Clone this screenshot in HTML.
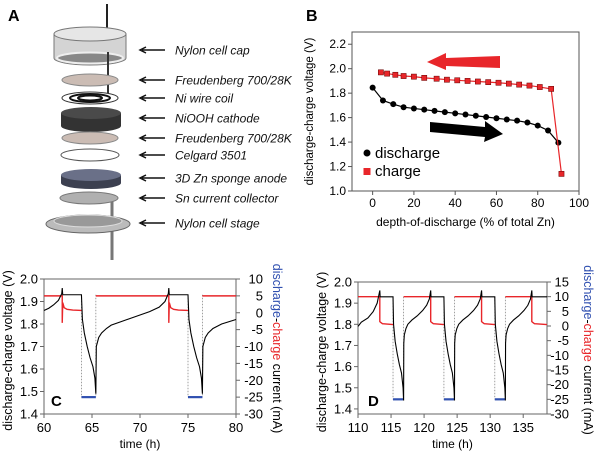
<!DOCTYPE html>
<html><head><meta charset="utf-8"><style>
html,body{margin:0;padding:0;background:#fff}
svg{display:block;font-family:"Liberation Sans",Arial,sans-serif}
</style></head><body>
<svg id="fig" width="600" height="461" viewBox="0 0 600 461">
<!-- Panel A -->
<g>
<text x="8" y="21" font-size="16" font-weight="bold">A</text>
<line x1="107" y1="4" x2="107" y2="30" stroke="#222" stroke-width="2"/>
<path d="M54,34 L54,58 A36,7 0 0 0 126,58 L126,34 Z" fill="#d4d4d4" stroke="#777"/>
<ellipse cx="90" cy="34" rx="36" ry="7" fill="#e6e6e6" stroke="#777"/>
<ellipse cx="90" cy="58" rx="33" ry="5.5" fill="#888" stroke="#eee" stroke-width="2"/>
<line x1="108" y1="52" x2="108" y2="94" stroke="#333" stroke-width="2"/>
<ellipse cx="90" cy="80" rx="28" ry="6" fill="#cbbcb4" stroke="#888"/>
<ellipse cx="90" cy="98" rx="28" ry="6" fill="#fff" stroke="#333"/>
<ellipse cx="90" cy="98" rx="20" ry="4" fill="none" stroke="#111" stroke-width="2"/>
<ellipse cx="90" cy="98" rx="12" ry="2.5" fill="none" stroke="#111" stroke-width="2"/>
<path d="M61,113 L61,126 A30,6 0 0 0 121,126 L121,113 Z" fill="#333"/>
<ellipse cx="91" cy="113" rx="30" ry="6" fill="#4a4a4a"/>
<ellipse cx="90" cy="138" rx="28" ry="6" fill="#cbbcb4" stroke="#888"/>
<ellipse cx="90" cy="155" rx="29" ry="6" fill="#fff" stroke="#555"/>
<path d="M61,175 L61,183 A30,6 0 0 0 121,183 L121,175 Z" fill="#3c4050"/>
<ellipse cx="91" cy="175" rx="30" ry="6" fill="#6a7088"/>
<line x1="112" y1="198" x2="112" y2="260" stroke="#777" stroke-width="3"/>
<ellipse cx="89" cy="198" rx="29" ry="6" fill="#b0b0b0" stroke="#777"/>
<ellipse cx="88" cy="224" rx="42" ry="9" fill="#bbb" stroke="#666"/>
<ellipse cx="88" cy="221" rx="34" ry="6" fill="#999" stroke="#ddd"/>
<g id="alabels" font-size="12" font-style="italic" fill="#111"></g>
</g>
<g id="pb"></g>
<g id="pc"></g>
<g id="pd"></g>
</svg>
<script>
const NS="http://www.w3.org/2000/svg";
function mk(p,tag,a,txt){const e=document.createElementNS(NS,tag);for(const k in a)e.setAttribute(k,a[k]);if(txt!==undefined)e.textContent=txt;p.appendChild(e);return e;}

// Panel A labels
const aLabels=["Nylon cell cap","Freudenberg 700/28K","Ni wire coil","NiOOH cathode","Freudenberg 700/28K","Celgard 3501","3D Zn sponge anode","Sn current collector","Nylon cell stage"];
const aY=[50,80,98,118,138,155,178,198,223];
const ag=document.getElementById('alabels');
aLabels.forEach((s,i)=>{
  const ar=mk(ag,'path',{d:`M165,${aY[i]} L142,${aY[i]} M146,${aY[i]-3} L140,${aY[i]} L146,${aY[i]+3}`,stroke:'#111','stroke-width':1.5,fill:'none'});
  
  
  const t=mk(ag,'text',{x:175,y:aY[i]+4.5},s);
  
  
});

// Panel B data
const bDisX=[0,5,10,15,20,25,30,35,40,45,50,55,60,65,70,75,80,85,90];
const bDisY=[1.845,1.74,1.71,1.685,1.675,1.665,1.655,1.645,1.635,1.625,1.615,1.605,1.595,1.585,1.575,1.56,1.535,1.495,1.395];
const bChX=[4,7,11,15,20,25,31,36,41,46,51,56,61,66,71,76,81,86.5,91.5];
const bChY=[1.97,1.96,1.95,1.94,1.935,1.925,1.918,1.91,1.905,1.9,1.895,1.89,1.885,1.878,1.87,1.862,1.85,1.835,1.14];
const bXTicks=[0,20,40,60,80,100];
const bYTicks=[1.0,1.2,1.4,1.6,1.8,2.0,2.2];
(function(){
  const g=document.getElementById('pb');
  const L=352,R=579,T=32,B=191;
  const sx=v=>L+(v+10)/110*(R-L), sy=v=>B-(v-1.0)/1.3*(B-T);
  const lb=mk(g,'text',{x:306,y:21,'font-size':16,'font-weight':'bold'},'B');
  
  const fr=mk(g,'rect',{x:L,y:T,width:R-L,height:B-T,fill:'none',stroke:'#555'});
  
  bYTicks.forEach(v=>{mk(g,'line',{x1:L-4,x2:L,y1:sy(v),y2:sy(v),stroke:'#555'});
    const t=mk(g,'text',{x:L-6,y:sy(v)+4,'font-size':12,'text-anchor':'end'},v.toFixed(1));
    });
  bXTicks.forEach(v=>{mk(g,'line',{x1:sx(v),x2:sx(v),y1:B,y2:B+4,stroke:'#555'});
    const t=mk(g,'text',{x:sx(v),y:B+16,'font-size':12,'text-anchor':'middle'},v);
    });
  const xt=mk(g,'text',{x:(L+R)/2,y:226,'font-size':12,'text-anchor':'middle'},'depth-of-discharge (% of total Zn)');
  
  const yt=mk(g,'text',{transform:`translate(313,${(T+B)/2}) rotate(-90)`,'font-size':11.5,'text-anchor':'middle'},'discharge-charge voltage (V)');
  
  const ra=mk(g,'path',{d:'M500,56 L446,58 L446,53 L427,62 L446,70 L446,66 L500,68 Z',fill:'#e8262a'});
  
  const ka=mk(g,'path',{d:'M430,122 L485,127 L485,121 L503,134 L484,142 L485,137 L430,132 Z',fill:'#000'});
  
  const dl=mk(g,'polyline',{points:bDisX.map((x,i)=>sx(x)+','+sy(bDisY[i])).join(' '),fill:'none',stroke:'#000','stroke-width':1.2});
  
  bDisX.forEach((x,i)=>{const c=mk(g,'circle',{cx:sx(x),cy:sy(bDisY[i]),r:3,fill:'#000'});
    });
  const cl=mk(g,'polyline',{points:bChX.map((x,i)=>sx(x)+','+sy(bChY[i])).join(' '),fill:'none',stroke:'#e8262a','stroke-width':1.2});
  
  bChX.forEach((x,i)=>{const c=mk(g,'rect',{x:sx(x)-2.6,y:sy(bChY[i])-2.6,width:5.2,height:5.2,fill:'#e8262a',stroke:'#600','stroke-width':0.5});
    });
  const l1=mk(g,'circle',{cx:367,cy:153,r:3.5,fill:'#000'});
  const l2=mk(g,'text',{x:375,y:158,'font-size':15},'discharge');
  const l3=mk(g,'rect',{x:363.5,y:168,width:7,height:7,fill:'#e8262a'});
  const l4=mk(g,'text',{x:375,y:176,'font-size':15},'charge');
})();

// Panel C data
const cVt=[60,60.5,61,61.5,61.85,61.9,61.95,63.9,64.0,64.2,64.5,64.8,65.1,65.3,65.4,65.45,65.7,66,66.5,67,68,69,70,71,72,72.6,72.95,73,73.05,75,75.1,75.3,75.6,75.9,76.2,76.4,76.5,76.55,76.8,77.1,77.6,78.5,80];
const cV=[1.86,1.87,1.885,1.905,1.935,1.96,1.93,1.93,1.82,1.76,1.7,1.65,1.61,1.56,1.49,1.7,1.74,1.76,1.78,1.795,1.81,1.825,1.84,1.855,1.875,1.9,1.935,1.96,1.93,1.93,1.82,1.76,1.7,1.65,1.61,1.56,1.49,1.7,1.74,1.76,1.78,1.8,1.82];
const cCt=[60,61.9,61.9,61.95,62.1,62.4,63,63.9,null,65.4,73,73,73.05,73.2,73.5,74,75,null,76.5,80];
const cC=[5,5,-3,3,1.5,1,0.8,0.7,null,5,5,-3,3,1.5,1,0.8,0.7,null,5,5];
const cDisStart=[63.9,75];
const cDisEnd=[65.4,76.5];
const cDisCurrent=-25;
const cXTicks=[60,65,70,75,80];
const cYTicks=[1.4,1.5,1.6,1.7,1.8,1.9,2.0];
const cY2Ticks=[10,5,0,-5,-10,-15,-20,-25,-30];

// Panel D data
const dInitT=[110,110.5,111.5,112.3,112.9,113.3];
const dInitV=[1.79,1.81,1.83,1.86,1.9,1.96];
const dCvStart=[113.3,121,128.7,136.3];
const dDisStart=[115.3,123,130.7];
const dDisEnd=[116.9,124.6,132.3];
const dChFrac=[0,0.02,0.08,0.15,0.3,0.5,0.7,0.85,0.95,1];
const dChV=[1.71,1.75,1.78,1.8,1.82,1.84,1.865,1.89,1.92,1.96];
const dDsFrac=[0,0.05,0.2,0.4,0.6,0.8,0.95,1];
const dDsV=[1.93,1.8,1.72,1.66,1.61,1.57,1.5,1.44];
const dCvHold=1.93, dChargeI=10, dCvI0=1.5, dCvI1=0.5, dDisI=-25;
const dXTicks=[110,115,120,125,130,135];
const dYTicks=[1.4,1.5,1.6,1.7,1.8,1.9,2.0];
const dY2Ticks=[15,10,5,0,-5,-10,-15,-20,-25,-30];

function cyclePanel(g,o){
  const {L,R,T,B,x0,x1,y0,y1,i0,i1}=o;
  const sx=v=>L+(v-x0)/(x1-x0)*(R-L), sy=v=>B-(v-y0)/(y1-y0)*(B-T), si=v=>B-(v-i0)/(i1-i0)*(B-T);
  const fr=mk(g,'rect',{x:L,y:T,width:R-L,height:B-T,fill:'none',stroke:'#666'});
  
  o.yt.forEach(v=>{mk(g,'line',{x1:L-4,x2:L,y1:sy(v),y2:sy(v),stroke:'#666'});
    const t=mk(g,'text',{x:L-6,y:sy(v)+4.5,'font-size':13,'text-anchor':'end'},v.toFixed(1));
    });
  o.y2t.forEach(v=>{mk(g,'line',{x1:R,x2:R+4,y1:si(v),y2:si(v),stroke:'#666'});
    const t=mk(g,'text',{x:R+o.y2off,y:si(v)+4.5,'font-size':13,'text-anchor':'end'},v);
    });
  o.xt.forEach(v=>{mk(g,'line',{x1:sx(v),x2:sx(v),y1:B,y2:B+4,stroke:'#666'});
    const t=mk(g,'text',{x:sx(v),y:B+18,'font-size':13,'text-anchor':'middle'},v);
    });
  const xt=mk(g,'text',{x:(L+R)/2,y:B+34,'font-size':12,'text-anchor':'middle'},'time (h)');
  
  const yt=mk(g,'text',{transform:`translate(${o.ylx},${(T+B)/2+4}) rotate(-90)`,'font-size':12.5,'text-anchor':'middle'},'discharge-charge voltage (V)');
  
  const y2=mk(g,'text',{transform:`translate(${o.y2x},${(T+B)/2+2}) rotate(90)`,'font-size':12.5,'text-anchor':'middle'});
  
  mk(y2,'tspan',{fill:'#3050b0'},'discharge');mk(y2,'tspan',{fill:'#000'},'-');mk(y2,'tspan',{fill:'#e8262a'},'charge');mk(y2,'tspan',{fill:'#000'},' current (mA)');
  const pl=mk(g,'text',{x:o.lx,y:o.ly,'font-size':15,'font-weight':'bold'},o.label);
  
  o.ds.forEach((s,k)=>{const e=o.de[k];
    [s,e].forEach(t=>{const d=mk(g,'line',{x1:sx(t),x2:sx(t),y1:sy(o.hold),y2:si(o.dI),stroke:'#888','stroke-width':0.8,'stroke-dasharray':'1.5,1.5'});
      });
    const b=mk(g,'line',{x1:sx(s),x2:sx(e),y1:si(o.dI),y2:si(o.dI),stroke:'#3050b0','stroke-width':2.2});
    });
  let segs=[],cur=[];
  o.it.forEach((t,k)=>{if(t===null){segs.push(cur);cur=[];}else cur.push(sx(t)+','+si(o.iv[k]));});segs.push(cur);
  segs.forEach(s=>{const p=mk(g,'polyline',{points:s.join(' '),fill:'none',stroke:'#e8262a','stroke-width':1.4});
    });
  const v=mk(g,'polyline',{points:o.vt.map((t,k)=>sx(t)+','+sy(o.vv[k])).join(' '),fill:'none',stroke:'#000','stroke-width':1.1});
  
}

cyclePanel(document.getElementById('pc'),{L:44,R:236,T:279,B:414,x0:60,x1:80,y0:1.4,y1:2.0,i0:-30,i1:10,
  xt:cXTicks,yt:cYTicks,y2t:cY2Ticks,vt:cVt,vv:cV,it:cCt,iv:cC,ds:cDisStart,de:cDisEnd,dI:cDisCurrent,hold:1.93,
  ylx:12,y2x:273,y2off:27,lx:51,ly:406,label:'C'});

(function(){
  const vt=dInitT.slice(), vv=dInitV.slice(), it=[110], iv=[dChargeI];
  dCvStart.forEach((cs,k)=>{
    const end = k<dDisStart.length ? dDisStart[k] : 138.6;
    vt.push(cs+0.05,end); vv.push(dCvHold,dCvHold);
    it.push(cs,cs,cs+0.1,cs+0.4,end); iv.push(dChargeI,dCvI0,dCvI0-0.2,dCvI1+0.3,dCvI1);
    if(k<dDisStart.length){
      const s=dDisStart[k], e=dDisEnd[k];
      dDsFrac.forEach((f,j)=>{vt.push(s+f*(e-s));vv.push(dDsV[j]);});
      const nx=dCvStart[k+1];
      dChFrac.forEach((f,j)=>{vt.push(e+0.03+f*(nx-e-0.03));vv.push(dChV[j]);});
      it.push(null); iv.push(null); it.push(e); iv.push(dChargeI);
    }
  });
  cyclePanel(document.getElementById('pd'),{L:358,R:547,T:282,B:414,x0:110,x1:138.6,y0:1.376,y1:2.0,i0:-30,i1:15,
    xt:dXTicks,yt:dYTicks,y2t:dY2Ticks,vt:vt,vv:vv,it:it,iv:iv,ds:dDisStart,de:dDisEnd,dI:dDisI,hold:dCvHold,
    ylx:326,y2x:584,y2off:22,lx:368,ly:406,label:'D'});
})();
</script>
</body></html>
